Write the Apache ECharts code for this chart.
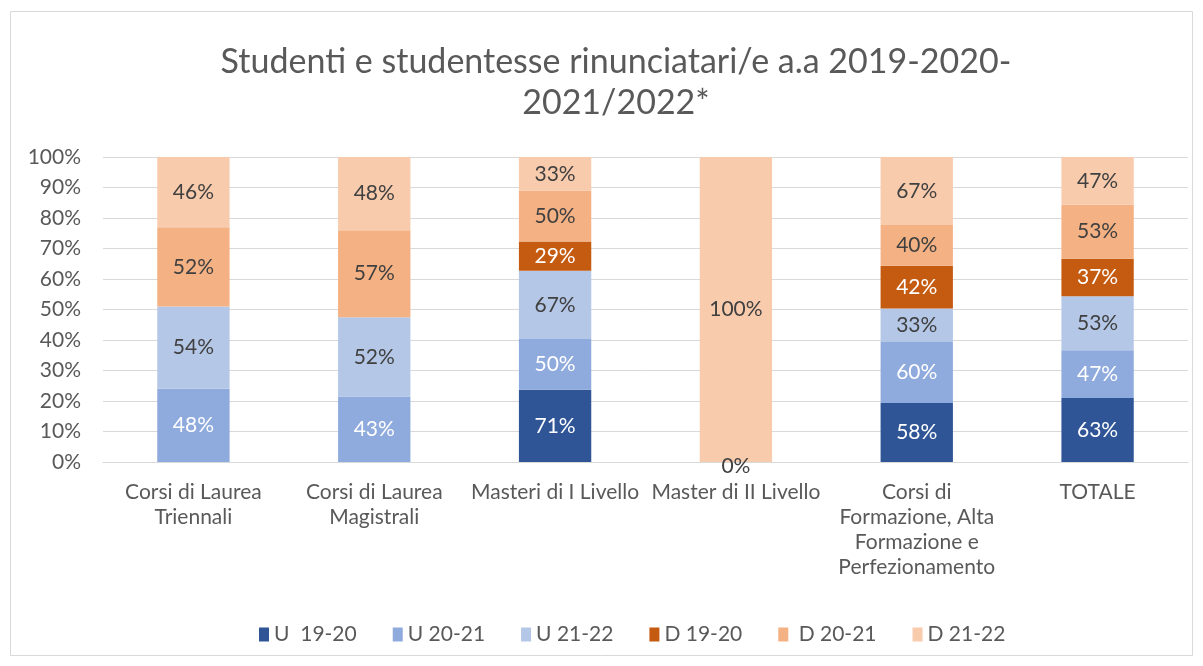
<!DOCTYPE html>
<html><head><meta charset="utf-8">
<script src="https://cdn.jsdelivr.net/npm/echarts@6/dist/echarts.min.js"></script>
<style>html,body{margin:0;padding:0;background:#fff}#c{width:1203px;height:666px}</style>
</head><body><div id="c"></div>
<script>
const categories = ['Corsi di Laurea\nTriennali','Corsi di Laurea\nMagistrali','Masteri di I Livello','Master di II Livello','Corsi di\nFormazione, Alta\nFormazione e\nPerfezionamento','TOTALE'];
const seriesNames = ['U  19-20','U 20-21','U 21-22','D 19-20',' D 20-21','D 21-22'];
const u1920 = [null, null, 71, null, 58, 63];
const u2021 = [48, 43, 50, null, 60, 47];
const u2122 = [54, 52, 67, 0, 33, 53];
const d1920 = [null, null, 29, null, 42, 37];
const d2021 = [52, 57, 50, null, 40, 53];
const d2122 = [46, 48, 33, 100, 67, 47];
const yTicks = [0,10,20,30,40,50,60,70,80,90,100];

const raw = [u1920,u2021,u2122,d1920,d2021,d2122];
const colors = ['#2F5597','#8FAADC','#B4C7E7','#C55A11','#F4B183','#F8CBAD'];
const labelColors = ['#ffffff','#ffffff','#404040','#ffffff','#404040','#404040'];
const totals = categories.map((_,i)=>raw.reduce((s,a)=>s+(a[i]||0),0));
const FONT = 'Lato';

const series = raw.map((arr,k)=>({
  name: seriesNames[k], type:'bar', stack:'all', barWidth:'40%',
  itemStyle:{color:colors[k]},
  data: arr.map((v,i)=> v===null ? null : (v===0 ? {value:0, raw:0, label:{offset:[0,4]}} : {value: v/totals[i]*100, raw: v})),
  label:{show:true, position:'inside', color:labelColors[k], fontFamily:FONT, fontSize:21,
    formatter: p => p.data && p.data.raw!==undefined ? p.data.raw+'%' : ''}
}));

const chart = echarts.init(document.getElementById('c'));
chart.setOption({
  animation:false,
  textStyle:{fontFamily:FONT},
  graphic:[
    {type:'rect', shape:{x:10.5,y:11.5,width:1182,height:644}, style:{fill:'none', stroke:'#d9d9d9', lineWidth:1}, silent:true}
  ],
  title:{text:'Studenti e studentesse rinunciatari/e a.a 2019-2020-\n2021/2022*', left:611, top:37,
    textAlign:'center',
    textStyle:{fontFamily:FONT, fontSize:34, fontWeight:'normal', color:'#595959', lineHeight:41}},
  legend:{bottom:16, left:254, itemWidth:10, itemHeight:14, itemGap:36, icon:'rect',
    textStyle:{fontFamily:FONT, fontSize:21, color:'#595959'}},
  grid:{left:103, right:15, top:157, bottom:204, containLabel:false},
  xAxis:{type:'category', data:categories,
    axisLine:{lineStyle:{color:'#d9d9d9', width:1}}, axisTick:{show:false},
    axisLabel:{interval:0, fontFamily:FONT, fontSize:21, color:'#595959', lineHeight:25, margin:18}},
  yAxis:{type:'value', min:yTicks[0], max:yTicks[yTicks.length-1], interval:10,
    axisLabel:{formatter:'{value}%', fontFamily:FONT, fontSize:21, color:'#595959', margin:22},
    splitLine:{lineStyle:{color:'#d9d9d9', width:1}}, axisLine:{show:false}, axisTick:{show:false}},
  series: series
});
</script></body></html>
